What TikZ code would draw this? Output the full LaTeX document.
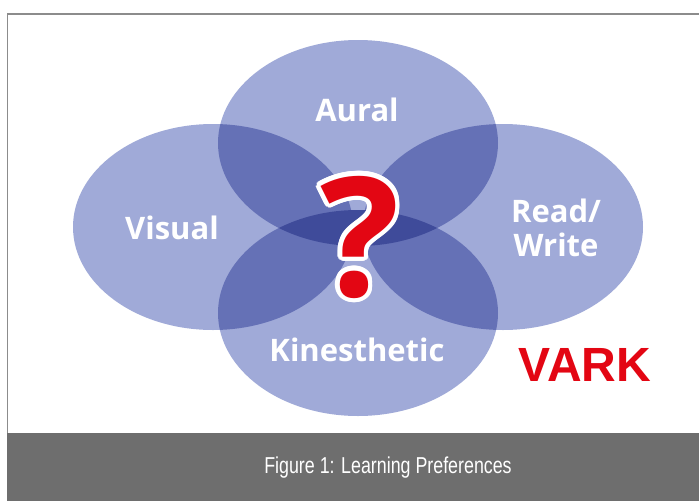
\documentclass[tikz,border=0pt]{standalone}
\usepackage{fontspec}
\setmainfont{Open Sans}
\newfontfamily\arialfont{Liberation Sans}
\usetikzlibrary{calc}
\definecolor{vlight}{HTML}{A0AAD8}
\definecolor{vmed}{HTML}{6571B6}
\definecolor{vdark}{HTML}{3F4B9A}
\definecolor{vred}{HTML}{E30613}
\definecolor{framegray}{HTML}{8C8C8C}
\definecolor{bargray}{HTML}{6E6E6E}
\tikzset{
  lbl/.style={text=white, font=\fontsize{31}{34}\selectfont\bfseries, align=center, inner sep=0pt},
  qm/.style={font=\fontsize{166}{166}\selectfont\bfseries, inner sep=0pt},
  ell/.style={x radius=140, y radius=103}
}
\begin{document}
\begin{tikzpicture}[x=1pt,y=-1pt]
\useasboundingbox (0,0) rectangle (699,501);
\fill[white] (0,0) rectangle (699,501);
% frame
\draw[framegray, line width=1.2pt] (7.5,433) -- (7.5,14) -- (699,14);
\fill[bargray] (7,433) rectangle (699,501);
% centres
\coordinate (cA) at (358,143);
\coordinate (cV) at (213,227);
\coordinate (cR) at (503,227);
\coordinate (cK) at (358,313);
% single ellipses
\foreach \c in {cA,cV,cR,cK} \fill[vlight] (\c) ellipse [ell];
% pairwise overlaps
\begin{scope}\clip (cV) ellipse [ell]; \fill[vmed] (cA) ellipse [ell]; \fill[vmed] (cK) ellipse [ell];\end{scope}
\begin{scope}\clip (cR) ellipse [ell]; \fill[vmed] (cA) ellipse [ell]; \fill[vmed] (cK) ellipse [ell];\end{scope}
\begin{scope}\clip (cA) ellipse [ell]; \fill[vdark] (cK) ellipse [ell];\end{scope}
% labels
\node[lbl] (aural) at (357,110) {Aural};
\node[lbl] (visual) at (172,228) {Visual};
\node[lbl] (read) at (556,228) {Read/\\Write};
\node[lbl] (kin) at (357,350) {Kinesthetic};
% question mark
\coordinate (qc) at (360,237);
\foreach \a in {0,15,...,345} \node[qm, text=white] at ($(qc)+(\a:4.5)$) {?};
\node[qm, text=vred] (q) at (qc) {?};
% VARK
\node[text=vred, font=\arialfont\bfseries\fontsize{48}{48}\selectfont, inner sep=0pt] (vark) at (585,365) {VARK};
% caption
\node[text=white, font=\arialfont\fontsize{23}{23}\selectfont, inner sep=0pt] (cap) at (388,468) {\scalebox{0.775}[1]{Figure 1: Learning Preferences}};
\end{tikzpicture}
\end{document}
